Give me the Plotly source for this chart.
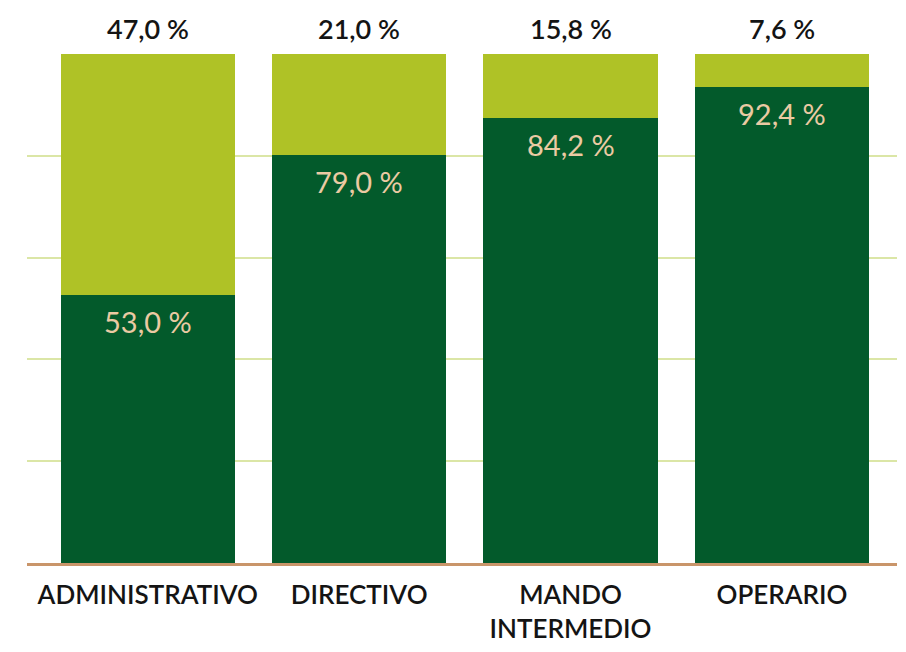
import plotly.graph_objects as go

categories = ["ADMINISTRATIVO", "DIRECTIVO", "MANDO<br>INTERMEDIO", "OPERARIO"]
# bar heights (percent of the 0-100 axis)
bottom_heights = [52.7, 80.2, 87.5, 93.5]
top_heights = [47.3, 19.8, 12.5, 6.5]
# value labels as printed on the chart
bottom_labels = ["53,0 %", "79,0 %", "84,2 %", "92,4 %"]
top_labels = ["47,0 %", "21,0 %", "15,8 %", "7,6 %"]
y_ticks = [0, 20, 40, 60, 80, 100]

dark = "#035a2b"
lime = "#afc226"
FONT = "Lato"

fig = go.Figure()
fig.add_trace(go.Bar(x=categories, y=bottom_heights, marker=dict(color=dark, line_width=0),
                     width=0.825, hoverinfo="skip"))
fig.add_trace(go.Bar(x=categories, y=top_heights, marker=dict(color=lime, line_width=0),
                     width=0.825, hoverinfo="skip"))

for c, b, t, bl, tl in zip(categories, bottom_heights, top_heights, bottom_labels, top_labels):
    fig.add_annotation(x=c, y=b, text=bl, showarrow=False, yanchor="top", yshift=-7,
                       font=dict(family=FONT, size=29, color="#ebcaa3", weight=400))
    fig.add_annotation(x=c, y=b + t, text=tl, showarrow=False, yanchor="bottom", yshift=7,
                       font=dict(family=FONT, size=27, color="#141414", weight=600))

fig.update_layout(
    barmode="stack",
    width=898, height=644,
    margin=dict(l=19, r=9, t=46, b=89, autoexpand=False),
    paper_bgcolor="white", plot_bgcolor="white",
    showlegend=False,
    font=dict(family=FONT, color="#141414"),
)
fig.update_xaxes(range=[-0.571, 3.544], showline=True, linecolor="#c9956a", linewidth=3,
                 tickfont=dict(family=FONT, size=26, color="#141414", weight=600), ticks="",
                 showgrid=False, automargin=False, ticklabelstandoff=7)
fig.update_yaxes(range=[0, 100], tickvals=y_ticks, showticklabels=False, showgrid=True,
                 gridcolor="#dbe6a6", gridwidth=2, zeroline=False, automargin=False)

fig.write_html("out.html")
